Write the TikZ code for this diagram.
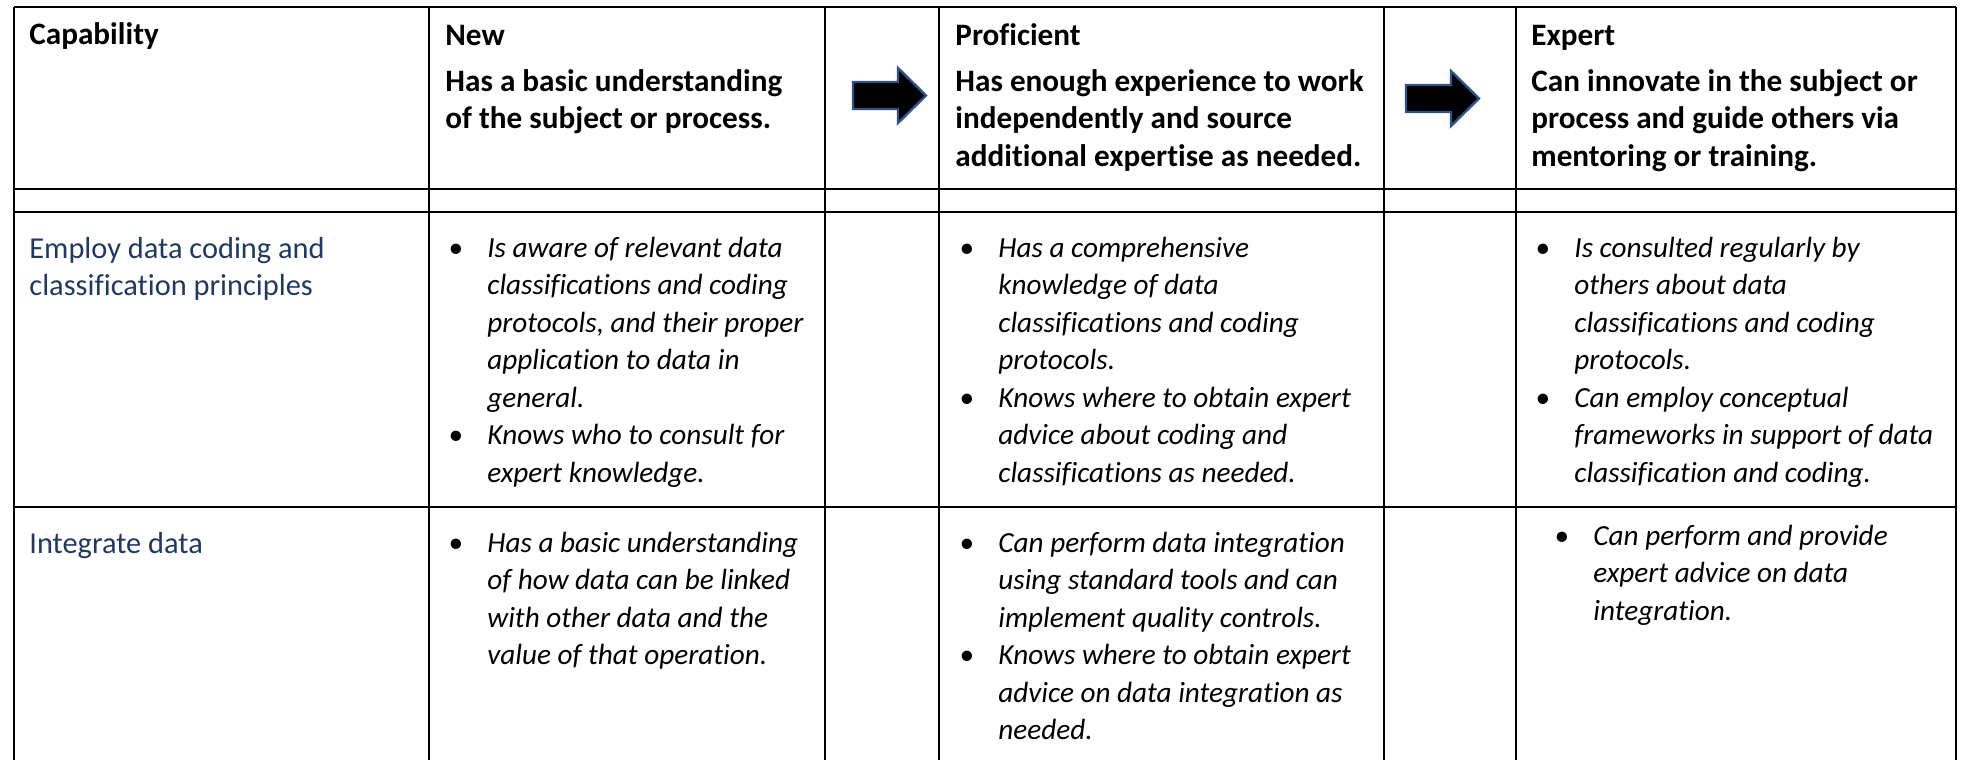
\documentclass[tikz,border=0pt]{standalone}
\usepackage{fontspec}
\setmainfont{Carlito}[Ligatures=NoCommon]
\usepackage{tikz}

\definecolor{capblue}{HTML}{1F3864}
\definecolor{arrowblue}{HTML}{2F528F}

\newcommand{\headfont}{\fontsize{15.6}{18.75}\selectfont\bfseries}
\newcommand{\capfont}{\fontsize{15.2}{18.75}\selectfont}
\newcommand{\itemfont}{\fontsize{14.6}{18.75}\selectfont\itshape}
\newcommand{\lines}[1]{\begin{tabular}[t]{@{}l@{}}#1\end{tabular}}
\newcommand{\bullets}[1]{\begin{tabular}[t]{@{}p{19.5pt}@{}l@{}}#1\end{tabular}}

\tikzset{
  rule/.style={line width=1pt},
  headtext/.style={anchor=base west, inner sep=0pt, font=\headfont},
  captext/.style={anchor=base west, inner sep=0pt, font=\capfont, text=capblue},
  itemtext/.style={anchor=base west, inner sep=0pt, font=\itemfont},
  arrowbox/.style={fill=black, draw=arrowblue, line width=1.2pt, line join=miter}
}

\begin{document}
\begin{tikzpicture}[x=0.5pt,y=-0.5pt]
\useasboundingbox (0,0) rectangle (1964,760);
%tabel
\foreach \x in {14,429,825,939,1384,1516,1956}
  \draw[rule] (\x,7)--(\x,760);
\foreach \y in {7,189,212,507}
  \draw[rule] (14,\y)--(1956,\y);
%pile
\foreach \ax/\ay in {853/0,1406/3}
  \draw[arrowbox] (\ax,82+\ay)--(\ax+45,82+\ay)--(\ax+45,68+\ay)--(\ax+73,95.5+\ay)
    --(\ax+45,123+\ay)--(\ax+45,109+\ay)--(\ax,109+\ay)--cycle;
%overskrifter
\node[headtext] (cap_head) at (29,44) {Capability};
\node[headtext] (new_head) at (445,45) {New};
\node[headtext] (new_desc) at (445,91) {\lines{Has a basic understanding\\of the subject or process.}};
\node[headtext] (prof_head) at (955,45) {Proficient};
\node[headtext] (prof_desc) at (955,91) {\lines{Has enough experience to work\\independently and source\\additional expertise as needed.}};
\node[headtext] (exp_head) at (1531,45) {Expert};
\node[headtext] (exp_desc) at (1531,91) {\lines{Can innovate in the subject or\\process and guide others via\\mentoring or training.}};
%raekke 1
\node[captext] (cap_one) at (29,258) {\lines{Employ data coding and\\classification principles}};
\node[itemtext] (new_one) at (448,257) {\bullets{\textbullet & Is aware of relevant data\\
  & classifications and coding\\ & protocols, and their proper\\ & application to data in\\ & general.\\
  \textbullet & Knows who to consult for\\ & expert knowledge.}};
\node[itemtext] (prof_one) at (959,257) {\bullets{\textbullet & Has a comprehensive\\
  & knowledge of data\\ & classifications and coding\\ & protocols.\\
  \textbullet & Knows where to obtain expert\\ & advice about coding and\\ & classifications as needed.}};
\node[itemtext] (exp_one) at (1535,257) {\bullets{\textbullet & Is consulted regularly by\\
  & others about data\\ & classifications and coding\\ & protocols.\\
  \textbullet & Can employ conceptual\\ & frameworks in support of data\\ & classification and coding.}};
%raekke 2
\node[captext] (cap_two) at (29,553) {Integrate data};
\node[itemtext] (new_two) at (448,552) {\bullets{\textbullet & Has a basic understanding\\
  & of how data can be linked\\ & with other data and the\\ & value of that operation.}};
\node[itemtext] (prof_two) at (959,552) {\bullets{\textbullet & Can perform data integration\\
  & using standard tools and can\\ & implement quality controls.\\
  \textbullet & Knows where to obtain expert\\ & advice on data integration as\\ & needed.}};
\node[itemtext] (exp_two) at (1554,545) {\bullets{\textbullet & Can perform and provide\\
  & expert advice on data\\ & integration.}};
\end{tikzpicture}
\end{document}
